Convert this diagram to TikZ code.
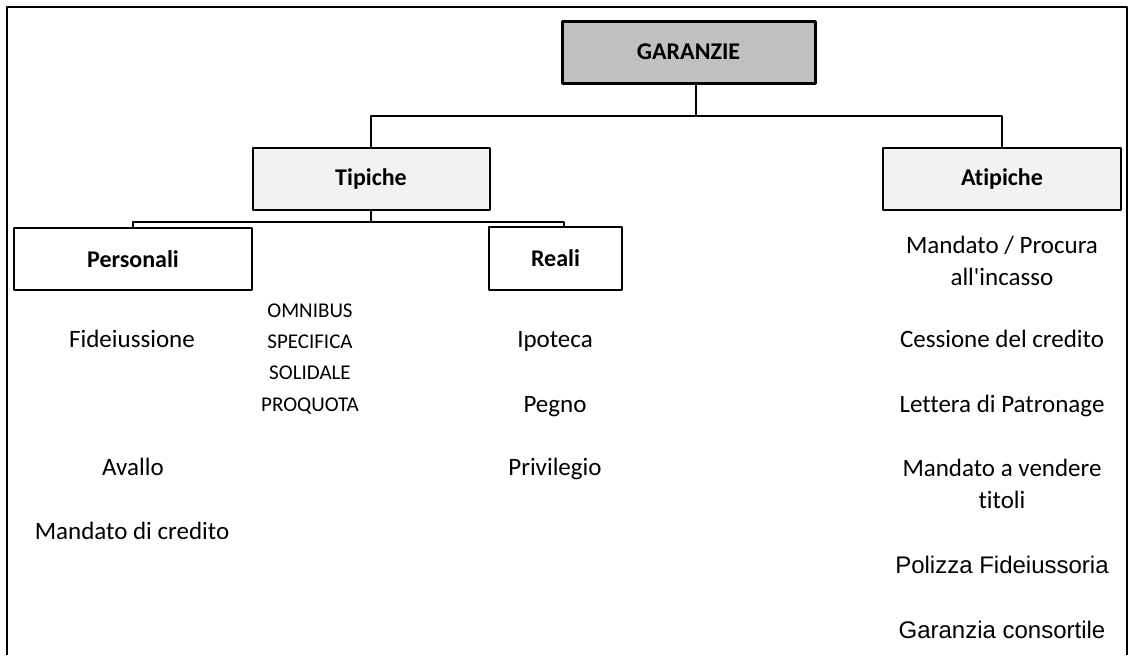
\documentclass[tikz,border=0pt]{standalone}
\usepackage{fontspec}
\setmainfont{Carlito}[Ligatures={NoCommon}]
\newfontfamily\arialfont{Liberation Sans}
\definecolor{headgray}{HTML}{C0C0C0}
\definecolor{subgray}{HTML}{F2F2F2}
\begin{document}
\begin{tikzpicture}[x=0.5pt,y=-0.5pt,line join=round,font=\fontsize{12.5}{16}\selectfont,
		box/.style={draw,line width=1pt,inner sep=0pt,minimum height=31pt,font=\fontsize{12}{16}\selectfont\bfseries},
		item/.style={inner sep=0pt,align=center,anchor=base},
		small/.style={item,font=\fontsize{10.5}{15}\selectfont},
		arial/.style={item,font=\arialfont\fontsize{12}{16}\selectfont},
		link/.style={line width=1pt}]
		\useasboundingbox (0,0) rectangle (1131,655);
		%%%%%%%%%%%%%%%
		\draw[line width=0.75pt] (7,655) -- (7,7) -- (1127,7) -- (1127,655);
		%%%%%%%%%%%%%%%
		\node[box,line width=1.5pt,fill=headgray,minimum width=126.5pt] (garanzie) at (688.5,52) {GARANZIE};
		\node[box,fill=subgray,minimum width=118.5pt] (tipiche) at (371,179) {Tipiche};
		\node[box,fill=subgray,minimum width=119pt] (atipiche) at (1002,179) {Atipiche};
		\node[box,minimum width=119pt] (personali) at (133,259) {Personali};
		\node[box,minimum width=66.5pt,minimum height=31.5pt] (reali) at (555.5,258.5) {Reali};
		%%%%%%%%%%%%%%%
		\coordinate (gbus) at (696,116);
		\coordinate (tbus) at (371,222);
		\draw[link] (garanzie.south -| gbus) -- (gbus);
		\draw[link] (tipiche.north) |- (gbus) -| (atipiche.north);
		\draw[link] (tipiche.south) -- (tbus);
		\draw[link] (personali.north) |- (tbus) -| ([xshift=4.25pt]reali.north);
		%%%%%%%%%%%%%%%
		\node[item] (fideiussione) at (132,347) {Fideiussione};
		\node[item] (avallo) at (133,475) {Avallo};
		\node[item] (mandcred) at (132,539) {Mandato di credito};
		%%%%%%%%%%%%%%%
		\node[small] (omnibus) at (310,317) {OMNIBUS};
		\node[small] (specifica) at (310,348) {SPECIFICA};
		\node[small] (solidale) at (310,379) {SOLIDALE};
		\node[small] (proquota) at (310,411) {PROQUOTA};
		%%%%%%%%%%%%%%%
		\node[item] (ipoteca) at (555,347) {Ipoteca};
		\node[item] (pegno) at (555,412) {Pegno};
		\node[item] (privilegio) at (555,475) {Privilegio};
		%%%%%%%%%%%%%%%
		\node[item] (procura) at (1002,285) {Mandato / Procura\\all\textquotesingle incasso};
		\node[item] (cessione) at (1002,347) {Cessione del credito};
		\node[item] (patronage) at (1002,412) {Lettera di Patronage};
		\node[item] (vendere) at (1002,508) {Mandato a vendere\\titoli};
		\node[arial] (polizza) at (1002,573) {Polizza Fideiussoria};
		\node[arial] (consortile) at (1002,638) {Garanzia consortile};
\end{tikzpicture}
\end{document}
